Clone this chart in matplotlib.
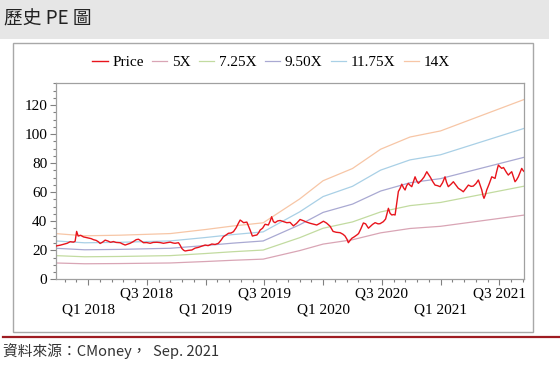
import numpy as np
import matplotlib
matplotlib.use('Agg')
import matplotlib.pyplot as plt
from matplotlib.patches import Rectangle
from matplotlib.lines import Line2D
from matplotlib.ticker import MultipleLocator, FixedLocator

# price, x in decimal years
price_t = [2017.723, 2017.762, 2017.790, 2017.821, 2017.847, 2017.875, 2017.889, 2017.902,
           2017.915, 2017.936, 2017.960, 2017.983, 2018.003, 2018.026, 2018.045, 2018.068,
           2018.088, 2018.102, 2018.123, 2018.145, 2018.170, 2018.191, 2018.215, 2018.238,
           2018.272, 2018.294, 2018.315, 2018.336, 2018.357, 2018.383, 2018.409, 2018.428,
           2018.451, 2018.471, 2018.498, 2018.528, 2018.553, 2018.585, 2018.613, 2018.641,
           2018.670, 2018.698, 2018.723, 2018.740, 2018.769, 2018.783, 2018.797, 2018.813,
           2018.826, 2018.851, 2018.883, 2018.911, 2018.939, 2018.966, 2018.996, 2019.021,
           2019.053, 2019.081, 2019.109, 2019.132, 2019.151, 2019.174, 2019.194, 2019.217,
           2019.237, 2019.260, 2019.279, 2019.294, 2019.308, 2019.323, 2019.351, 2019.366,
           2019.379, 2019.398, 2019.417, 2019.436, 2019.451, 2019.464, 2019.485, 2019.506,
           2019.534, 2019.549, 2019.562, 2019.577, 2019.591, 2019.613, 2019.634, 2019.660,
           2019.691, 2019.719, 2019.747, 2019.774, 2019.804, 2019.834, 2019.860, 2019.889,
           2019.917, 2019.946, 2019.974, 2020.003, 2020.030, 2020.060, 2020.085, 2020.111,
           2020.145, 2020.170, 2020.187, 2020.204, 2020.215, 2020.230, 2020.244, 2020.264,
           2020.287, 2020.302, 2020.323, 2020.343, 2020.362, 2020.386, 2020.400, 2020.421,
           2020.443, 2020.468, 2020.485, 2020.513, 2020.532, 2020.556, 2020.570, 2020.585,
           2020.600, 2020.613, 2020.626, 2020.641, 2020.655, 2020.670, 2020.685, 2020.698,
           2020.711, 2020.726, 2020.740, 2020.755, 2020.770, 2020.783, 2020.796, 2020.811,
           2020.826, 2020.840, 2020.860, 2020.883, 2020.896, 2020.911, 2020.932, 2020.953,
           2020.974, 2020.996, 2021.017, 2021.038, 2021.051, 2021.066, 2021.089, 2021.109,
           2021.132, 2021.151, 2021.174, 2021.194, 2021.217, 2021.237, 2021.260, 2021.279,
           2021.302, 2021.322, 2021.336, 2021.351, 2021.362, 2021.370, 2021.383, 2021.393,
           2021.413, 2021.436, 2021.451, 2021.464, 2021.477, 2021.492, 2021.506, 2021.521,
           2021.536, 2021.549, 2021.562, 2021.577, 2021.591, 2021.606, 2021.621, 2021.634,
           2021.647, 2021.662, 2021.677, 2021.691, 2021.702, 2021.713]
price_v = [22.9, 23.5, 24.1, 24.8, 25.9, 25.6, 26.2, 33.0,
           29.8, 30.3, 29.2, 28.8, 28.4, 28.0, 27.3, 26.8,
           25.8, 24.7, 25.6, 27.0, 26.3, 25.5, 26.0, 25.4,
           25.2, 24.3, 23.6, 24.2, 24.8, 25.9, 27.3, 27.6,
           26.4, 25.2, 25.3, 24.8, 25.4, 25.5, 25.3, 24.8,
           25.2, 25.6, 25.0, 24.8, 25.2, 23.5, 21.3, 20.0,
           19.5, 19.9, 20.2, 21.5, 22.0, 22.8, 23.6, 23.2,
           24.3, 24.0, 24.8, 27.0, 29.3, 30.5, 31.7, 31.9,
           32.8, 35.5, 38.6, 40.8, 40.0, 39.0, 39.4, 36.5,
           33.9, 29.8, 30.2, 30.5, 32.0, 33.9, 35.2, 37.9,
           37.4, 40.0, 43.1, 39.7, 39.0, 40.2, 40.5, 39.8,
           39.0, 39.2, 36.8, 38.5, 41.2, 40.3, 39.4, 38.6,
           38.0, 37.4, 38.6, 40.0, 38.7, 36.5, 33.0, 32.4,
           32.1, 31.0, 29.8, 27.5, 25.2, 26.8, 28.2, 29.2,
           30.5, 31.5, 35.0, 38.8, 38.2, 35.2, 36.2, 37.8,
           39.0, 38.2, 38.3, 39.7, 41.5, 48.9, 45.5, 44.3,
           44.6, 44.3, 52.0, 60.5, 62.5, 65.5, 63.0, 61.5,
           64.5, 66.1, 64.8, 63.8, 67.5, 70.6, 68.0, 66.1,
           67.3, 68.4, 70.5, 74.1, 72.4, 70.6, 67.5, 64.9,
           64.5, 63.8, 66.5, 70.6, 66.8, 63.8, 65.5, 67.2,
           64.8, 62.7, 61.5, 60.3, 62.8, 64.9, 64.0, 64.2,
           66.0, 68.4, 65.0, 61.5, 57.5, 55.8, 58.5, 61.5,
           65.5, 70.6, 70.0, 69.5, 74.0, 78.7, 77.5, 76.4,
           77.0, 75.3, 73.5, 71.8, 73.0, 74.1, 70.5, 67.2,
           68.5, 70.6, 73.5, 76.4, 75.0, 74.1]

# trailing EPS used for the PE bands
eps_t = [2017.72, 2017.97, 2018.27, 2018.70, 2019.00, 2019.23, 2019.49,
         2019.80, 2020.00, 2020.25, 2020.49, 2020.74, 2021.00, 2021.713]
eps_v = [2.25, 2.14, 2.17, 2.25, 2.45, 2.62, 2.78,
         3.95, 4.85, 5.45, 6.40, 7.00, 7.30, 8.85]

multiples = [5, 7.25, 9.5, 11.75, 14]
band_labels = ['5X', '7.25X', '9.50X', '11.75X', '14X']
band_colors = ['#d9a5b5', '#c2dba0', '#a9a9d2', '#a9d0e6', '#f7c6a6']

xtick_pos = [2018.0, 2018.5, 2019.0, 2019.5, 2020.0, 2020.5, 2021.0, 2021.5]
xtick_lab = ['\nQ1 2018', 'Q3 2018', '\nQ1 2019', 'Q3 2019',
             '\nQ1 2020', 'Q3 2020', '\nQ1 2021', 'Q3 2021']

W, H = 560, 370
fig = plt.figure(figsize=(5.6, 3.7), dpi=100)
fig.patch.set_facecolor('white')

# header bar, frame, rule
fig.patches.append(Rectangle((0, 1 - 39 / H), 549 / W, 39 / H, transform=fig.transFigure,
                             facecolor='#e6e6e6', edgecolor='none', zorder=0))
fig.patches.append(Rectangle((12.7 / W, 1 - 331.7 / H), (533 - 12.7) / W, (331.7 - 43) / H,
                             transform=fig.transFigure, fill=False,
                             edgecolor='#a8a8a8', lw=1.0, zorder=0))
fig.lines.append(Line2D([3 / W, 1], [1 - 337 / H, 1 - 337 / H], transform=fig.transFigure,
                        color='#9e1c22', lw=1.6))

fig.text(4 / W, 1 - 19 / H, '歷史 PE 圖', fontsize=13.5, va='center', ha='left',
         family=['Noto Sans CJK TC', 'DejaVu Sans'], color='#222222')
fig.text(3 / W, 1 - 351 / H, '資料來源：CMoney，  Sep. 2021', fontsize=10.6, va='center',
         ha='left', family=['Noto Sans CJK TC', 'DejaVu Sans'], color='#333333')

ax = fig.add_axes([55.5 / W, 1 - 279.3 / H, (524.3 - 55.5) / W, (279.3 - 83.3) / H])

ax.plot(price_t, price_v, color='#e8141c', lw=1.0, label='Price', zorder=5)
eps = np.array(eps_v)
for m, lab, c in zip(multiples, band_labels, band_colors):
    ax.plot(eps_t, m * eps, color=c, lw=0.9, label=lab)

ax.set_xlim(2017.722, 2021.713)
ax.set_ylim(0, 135)
ax.yaxis.set_major_locator(MultipleLocator(20))
ax.yaxis.set_minor_locator(MultipleLocator(5))
ax.xaxis.set_major_locator(FixedLocator(xtick_pos))
ax.xaxis.set_minor_locator(MultipleLocator(0.1))
ax.set_xticklabels(xtick_lab)
for t in ax.get_xticklabels():
    t.set_linespacing(1.3)

for s in ax.spines.values():
    s.set_color('#a0a0a0')
    s.set_linewidth(0.9)
ax.tick_params(which='both', direction='out', color='#808080', width=0.8,
               labelsize=11, labelfontfamily='Liberation Serif')
ax.tick_params(which='major', length=4, pad=2)
ax.tick_params(which='minor', length=2)

handles, labels = ax.get_legend_handles_labels()
fig.legend(handles, labels, loc='center', bbox_to_anchor=(0.484, 1 - 62 / H), ncol=6,
           frameon=False, handlelength=1.0, handletextpad=0.3, columnspacing=0.55,
           prop={'family': 'Liberation Serif', 'size': 11})

fig.savefig('out.png', dpi=100)
